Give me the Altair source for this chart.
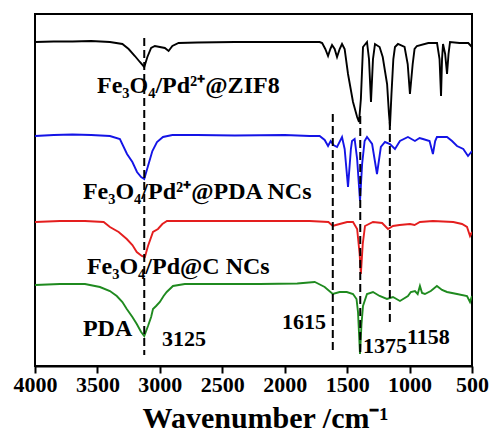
import altair as alt
import pandas as pd

# ---- data (wavenumber, relative transmittance a.u.) ----
black_wn = [4000, 3850, 3700, 3550, 3400, 3300, 3250, 3200, 3160, 3125, 3100, 3070, 3040, 3000, 2960, 2930, 2900, 2850, 2700, 2400, 2000, 1720, 1700, 1675, 1653, 1635, 1621, 1600, 1581, 1560, 1541, 1520, 1493, 1453, 1420, 1405, 1390, 1373, 1341, 1325, 1309, 1293, 1277, 1240, 1215, 1197, 1180, 1165, 1157, 1145, 1130, 1117, 1093, 1040, 1015, 997, 975, 960, 941, 850, 780, 760, 748, 740, 732, 715, 700, 688, 676, 600, 530, 500]
black_val = [324, 324.5, 324.5, 325, 324, 322, 317, 310, 304, 299, 309, 318, 320, 319, 318, 315, 320, 323, 323.5, 324, 324, 324, 323, 317, 310, 317, 321, 317, 309, 317, 322, 317, 292, 264, 249, 244, 267, 319, 324, 307, 264, 307, 322, 319, 309, 295, 282, 252, 240, 272, 307, 319, 322, 319, 302, 272, 302, 317, 320, 323, 323, 307, 270, 307, 322, 312, 292, 312, 324, 323, 323, 319]

blue_wn = [4000, 3850, 3700, 3550, 3400, 3320, 3263, 3220, 3183, 3150, 3125, 3095, 3060, 3023, 2975, 2900, 2700, 2400, 2000, 1800, 1720, 1680, 1653, 1632, 1610, 1581, 1541, 1520, 1493, 1470, 1461, 1440, 1420, 1397, 1380, 1360, 1341, 1300, 1261, 1230, 1197, 1157, 1117, 1077, 1013, 957, 920, 893, 840, 813, 795, 781, 700, 660, 620, 570, 532, 500]
blue_val = [230, 231, 231.5, 231, 230, 227, 212, 204, 194, 189, 187, 200, 215, 224, 229, 231, 231, 230.5, 231, 230, 230, 226, 220, 225, 221, 219, 229, 217, 179, 217, 225, 227, 207, 165, 202, 225, 229, 222, 192, 219, 224, 222, 217, 225, 229, 225, 228, 227, 225, 212, 225, 229, 229, 225, 220, 217, 210, 215]

red_wn = [4000, 3800, 3600, 3450, 3400, 3330, 3265, 3220, 3185, 3145, 3120, 3095, 3055, 3015, 2980, 2943, 2700, 2400, 2000, 1800, 1650, 1615, 1590, 1560, 1500, 1453, 1420, 1400, 1390, 1375, 1357, 1293, 1220, 1173, 1133, 1080, 997, 960, 917, 813, 650, 580, 540, 516, 500]
red_val = [144, 145, 145, 144, 139, 134, 127, 121, 114, 110, 109, 120, 134, 137, 142, 145, 145, 145, 145, 145, 144, 140, 141, 142, 144, 144, 137, 112, 92, 122, 140, 144, 143, 137, 140, 141, 142, 141, 144, 145, 144, 142, 139, 130, 134]

green_wn = [4000, 3800, 3600, 3480, 3400, 3345, 3300, 3265, 3220, 3185, 3150, 3125, 3095, 3070, 3055, 3030, 3000, 2970, 2945, 2895, 2800, 2500, 2200, 1900, 1760, 1742, 1680, 1615, 1560, 1503, 1453, 1425, 1413, 1397, 1385, 1373, 1341, 1293, 1240, 1181, 1133, 1077, 1013, 990, 957, 935, 917, 900, 877, 830, 781, 740, 700, 620, 540, 516, 500]
green_val = [81, 82, 82, 79, 75, 70, 64, 57, 49, 42, 34, 30, 40, 49, 57, 60, 64, 70, 74, 80, 82, 82, 82, 82.5, 84, 83, 79, 72, 74, 74, 72, 67, 54, 12, 42, 60, 72, 74, 70, 67, 69, 65, 70, 74, 75, 72, 80, 73, 72, 75, 80, 76, 74, 72, 70, 64, 70]

series_names = ["Fe3O4/Pd2+@ZIF8", "Fe3O4/Pd2+@PDA NCs", "Fe3O4/Pd@C NCs", "PDA"]
series_colors = ["#000000", "#1414e6", "#e41e1e", "#1f8a1f"]

# dashed marker lines
mark_wn = [3125, 1615, 1395, 1158]
mark_top = [328, 252, 250, 244]
mark_bottom = [11, 12, 12, 42]

# text annotations
label_text = ["Fe\u2083O\u2084/Pd\u00b2\u207a@ZIF8", "Fe\u2083O\u2084/Pd\u00b2\u207a@PDA NCs", "Fe\u2083O\u2084/Pd@C NCs", "PDA"]
label_wn = [3503, 3616, 3584, 3616]
label_val = [280, 174, 99, 37]

num_text = ["3125", "1615", "1375", "1158"]
num_wn = [2983, 2022, 1373, 1021]
num_val = [27, 44, 20, 29]

tick_values = list(range(500, 4001, 250))

# ---- tables ----
rows = []
for name, wn, val in zip(series_names, [black_wn, blue_wn, red_wn, green_wn], [black_val, blue_val, red_val, green_val]):
    for w, v in zip(wn, val):
        rows.append({"series": name, "wn": w, "val": v})
df = pd.DataFrame(rows)
df_marks = pd.DataFrame({"wn": mark_wn, "top": mark_top, "bottom": mark_bottom})
df_labels = pd.DataFrame({"text": label_text, "wn": label_wn, "val": label_val})
df_nums = pd.DataFrame({"text": num_text, "wn": num_wn, "val": num_val})

FONT = "'Times New Roman', 'Liberation Serif', serif"
x_scale = alt.Scale(domain=[500, 4000], reverse=True, nice=False, zero=False)
y_scale = alt.Scale(domain=[0, 352], nice=False, zero=False)

x_axis = alt.Axis(
    values=tick_values,
    format="d",
    labelExpr="datum.value % 500 === 0 ? datum.label : ''",
    tickSize={"condition": {"test": "datum.value % 500 === 0", "value": 7}, "value": 4},
    tickWidth=2,
    tickColor="black",
    domainColor="black",
    domainWidth=2,
    grid=False,
    labelFont=FONT,
    labelFontWeight="bold",
    labelFontSize=22,
    labelColor="black",
    labelPadding=1,
    labelFlush=False,
    labelOverlap=False,
    title="Wavenumber /cm\u207b\u00b9",
    titleFont=FONT,
    titleFontWeight="bold",
    titleFontSize=30,
    titleColor="black",
    titlePadding=8,
    titleX=230,
)

lines = alt.Chart(df).mark_line(strokeWidth=1.9, clip=True).encode(
    x=alt.X("wn:Q", scale=x_scale, axis=x_axis),
    y=alt.Y("val:Q", scale=y_scale, axis=None),
    color=alt.Color("series:N", scale=alt.Scale(domain=series_names, range=series_colors), legend=None),
)

rules = alt.Chart(df_marks).mark_rule(strokeDash=[8, 4], strokeWidth=2, color="black").encode(
    x=alt.X("wn:Q", scale=x_scale),
    y=alt.Y("top:Q", scale=y_scale),
    y2="bottom:Q",
)

labels = alt.Chart(df_labels).mark_text(
    align="left", baseline="middle", font=FONT, fontWeight="bold", fontSize=24, color="black"
).encode(
    x=alt.X("wn:Q", scale=x_scale),
    y=alt.Y("val:Q", scale=y_scale),
    text="text:N",
)

nums = alt.Chart(df_nums).mark_text(
    align="left", baseline="middle", font=FONT, fontWeight="bold", fontSize=22, color="black"
).encode(
    x=alt.X("wn:Q", scale=x_scale),
    y=alt.Y("val:Q", scale=y_scale),
    text="text:N",
)

chart = alt.layer(lines, rules, labels, nums).properties(
    width=437,
    height=352,
    autosize=alt.AutoSizeParams(type="none"),
    padding={"left": 35, "top": 14, "right": 22, "bottom": 81},
    background="white",
).configure_view(stroke="black", strokeWidth=2)

chart.save("out.html", embed_options={"renderer": "svg", "actions": False})
